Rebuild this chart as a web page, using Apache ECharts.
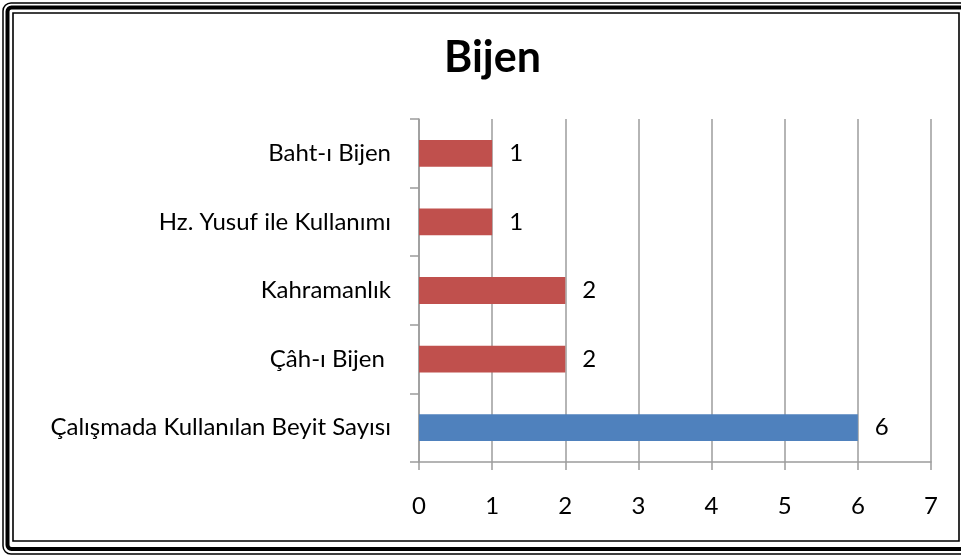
<!DOCTYPE html>
<html>
<head>
<meta charset="utf-8">
<script src="https://cdn.jsdelivr.net/npm/echarts@6/dist/echarts.min.js"></script>
<style>
  html, body { margin: 0; padding: 0; background: #fff; }
  #chart { width: 961px; height: 555px; }
</style>
</head>
<body>
<div id="chart"></div>
<script>
// Categories listed bottom to top (category axis starts at the bottom)
const categories = [
  'Çalışmada Kullanılan Beyit Sayısı',
  'Çâh-ı Bijen ',
  'Kahramanlık',
  'Hz. Yusuf ile Kullanımı',
  'Baht-ı Bijen'
];
const values = [6, 2, 2, 1, 1];
const xTicks = { min: 0, max: 7, interval: 1 };

const BLUE = '#4F81BD';
const RED = '#C0504D';
const GRID = '#9c9c9c';
const FONT = 'Lato, "Open Sans", sans-serif';

const chart = echarts.init(document.getElementById('chart'), null, { renderer: 'canvas' });

chart.setOption({
  backgroundColor: '#fff',
  animation: false,
  title: {
    text: 'Bijen',
    left: 439,
    top: 32,
    textStyle: { fontFamily: FONT, fontSize: 43, fontWeight: 'bold', color: '#000' }
  },
  grid: { left: 419, right: 30, top: 119, bottom: 93, containLabel: false },
  xAxis: {
    type: 'value',
    min: xTicks.min,
    max: xTicks.max,
    interval: xTicks.interval,
    axisLine: { show: true, lineStyle: { color: GRID, width: 1.5 } },
    axisTick: { show: true, inside: false, length: 8, lineStyle: { color: GRID, width: 1.5 } },
    axisLabel: { margin: 32, fontFamily: FONT, fontSize: 24, color: '#000' },
    splitLine: { show: true, lineStyle: { color: GRID, width: 1.5 } }
  },
  yAxis: {
    type: 'category',
    data: categories,
    axisLine: { show: true, lineStyle: { color: GRID, width: 1.5 } },
    axisTick: { show: true, inside: false, length: 9, lineStyle: { color: GRID, width: 1.5 } },
    axisLabel: { margin: 28, fontFamily: FONT, fontSize: 24, color: '#000' },
    splitLine: { show: false }
  },
  series: [{
    type: 'bar',
    data: values,
    barWidth: '39%',
    itemStyle: {
      color: (p) => (p.dataIndex === 0 ? BLUE : RED)
    },
    label: {
      show: true,
      position: 'right',
      distance: 17,
      fontFamily: FONT,
      fontSize: 24,
      color: '#000'
    }
  }],
  graphic: [
    // triple frame around the chart: thin outer, thick middle, thin inner
    {
      type: 'rect', silent: true,
      shape: { x: 3, y: 3, width: 970, height: 551, r: 8 },
      style: { fill: null, stroke: '#000', lineWidth: 1.5 }
    },
    {
      type: 'rect', silent: true,
      shape: { x: 7.5, y: 7.5, width: 960, height: 541.5, r: 4 },
      style: { fill: null, stroke: '#000', lineWidth: 4 }
    },
    {
      type: 'rect', silent: true,
      shape: { x: 13, y: 13, width: 946, height: 528 },
      style: { fill: null, stroke: '#000', lineWidth: 1.6 }
    }
  ]
});
</script>
</body>
</html>
